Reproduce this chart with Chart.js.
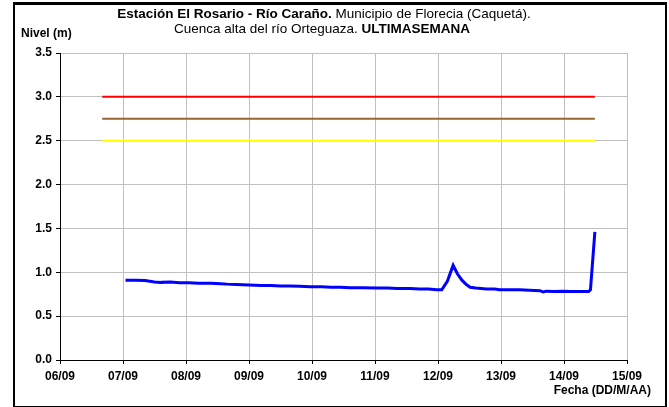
<!DOCTYPE html>
<html>
  <head>
    <meta charset="utf-8" />
    <title>Estación El Rosario - Río Caraño</title>
    <script src="https://cdn.jsdelivr.net/npm/chart.js"></script>
    <style>
      html, body { margin: 0; padding: 0; background: #fff; }
      #wrap { position: relative; width: 669px; height: 407px; overflow: hidden; }
      #frame { position: absolute; left: 13px; top: 2px; width: 650px; height: 401px; border: 2px solid #000; border-top-width: 3px; }
      #chart { position: absolute; left: 0; top: 0; }
    </style>
  </head>
  <body>
    <div id="wrap">
      <div id="frame"></div>
      <canvas id="chart" width="669" height="407"></canvas>
    </div>
    <script type="text/javascript">
      // x = days since 06/09 00:00
      var dateLabels = ['06/09', '07/09', '08/09', '09/09', '10/09', '11/09', '12/09', '13/09', '14/09', '15/09']

      var nivelDays = [1.04, 1.2, 1.35, 1.5, 1.6, 1.75, 1.9, 2.05, 2.2, 2.4, 2.55, 2.65, 2.8, 3.0, 3.2, 3.35, 3.5, 3.65, 3.8, 3.97, 4.15, 4.3, 4.45, 4.6, 4.8, 5.03, 5.2, 5.35, 5.56, 5.7, 5.85, 5.98, 6.06, 6.15, 6.24, 6.31, 6.38, 6.45, 6.51, 6.6, 6.77, 6.9, 6.98, 7.1, 7.3, 7.45, 7.62, 7.67, 7.72, 7.85, 7.98, 8.1, 8.25, 8.39, 8.42, 8.49]
      var nivelValues = [0.91, 0.91, 0.905, 0.89, 0.885, 0.89, 0.88, 0.88, 0.875, 0.875, 0.87, 0.865, 0.86, 0.855, 0.85, 0.85, 0.845, 0.845, 0.84, 0.835, 0.835, 0.83, 0.83, 0.825, 0.825, 0.82, 0.82, 0.815, 0.815, 0.81, 0.81, 0.80, 0.80, 0.90, 1.08, 0.98, 0.91, 0.86, 0.83, 0.82, 0.81, 0.81, 0.80, 0.80, 0.80, 0.795, 0.79, 0.775, 0.785, 0.78, 0.785, 0.78, 0.78, 0.78, 0.80, 1.46]

      var limitStart = 0.67
      var limitEnd = 8.49
      var limitRojo = 3.0
      var limitNaranja = 2.75
      var limitAmarillo = 2.5

      var fontFamily = '"Liberation Sans", Arial, sans-serif'

      function toPoints(xs, ys) {
        var pts = []
        for (var i = 0; i < xs.length; i++) pts.push({ x: xs[i], y: ys[i] })
        return pts
      }

      function limitLine(v) {
        return [{ x: limitStart, y: v }, { x: limitEnd, y: v }]
      }

      var textPlugin = {
        id: 'texts',
        afterDraw: function(chart) {
          var ctx = chart.ctx
          ctx.save()
          ctx.fillStyle = '#000'
          ctx.textBaseline = 'middle'
          function mixed(parts, cx, y) {
            var total = 0
            parts.forEach(function(p) {
              ctx.font = (p[1] ? 'bold ' : '') + '13.5px ' + fontFamily
              total += ctx.measureText(p[0]).width
            })
            var x = cx - total / 2
            ctx.textAlign = 'left'
            parts.forEach(function(p) {
              ctx.font = (p[1] ? 'bold ' : '') + '13.5px ' + fontFamily
              ctx.fillText(p[0], x, y)
              x += ctx.measureText(p[0]).width
            })
          }
          mixed([['Estación El Rosario - Río Caraño.', true], [' Municipio de Florecia (Caquetá).', false]], 324, 14)
          mixed([['Cuenca alta del río Orteguaza. ', false], ['ULTIMASEMANA', true]], 322, 29)
          ctx.font = 'bold 12px ' + fontFamily
          ctx.textAlign = 'left'
          ctx.fillText('Nivel (m)', 21, 34)
          ctx.textAlign = 'right'
          ctx.fillText('Fecha (DD/M/AA)', 651, 391)
          ctx.restore()
        }
      }

      var ctx = document.getElementById('chart').getContext('2d')
      new Chart(ctx, {
        type: 'scatter',
        data: {
          datasets: [
            { data: limitLine(limitRojo), showLine: true, borderColor: '#ff0000', borderWidth: 2, pointRadius: 0 },
            { data: limitLine(limitNaranja), showLine: true, borderColor: '#996633', borderWidth: 2, pointRadius: 0 },
            { data: limitLine(limitAmarillo), showLine: true, borderColor: '#ffff00', borderWidth: 2, pointRadius: 0 },
            { data: toPoints(nivelDays, nivelValues), showLine: true, borderColor: '#0000ff', borderWidth: 3, pointRadius: 0, tension: 0 }
          ]
        },
        options: {
          responsive: false,
          animation: false,
          events: [],
          layout: { padding: { left: 0, top: 53, right: 42, bottom: 0 } },
          plugins: { legend: { display: false }, title: { display: false }, tooltip: { enabled: false } },
          scales: {
            x: {
              type: 'linear',
              min: 0,
              max: 9,
              afterFit: function(s) { s.height = 47 },
              ticks: {
                stepSize: 1,
                autoSkip: false,
                maxRotation: 0,
                padding: 5,
                color: '#000',
                font: { family: fontFamily, size: 12, weight: 'bold' },
                callback: function(v) { return dateLabels[v] }
              },
              grid: { color: '#c0c0c0', lineWidth: 1, tickLength: 4, tickColor: '#000' },
              border: { color: '#000', width: 1 }
            },
            y: {
              min: 0,
              max: 3.5,
              afterFit: function(s) { s.width = 60 },
              ticks: {
                stepSize: 0.5,
                padding: 4,
                color: '#000',
                font: { family: fontFamily, size: 12, weight: 'bold' },
                callback: function(v) { return v.toFixed(1) }
              },
              grid: { color: '#c0c0c0', lineWidth: 1, tickLength: 4, tickColor: '#000' },
              border: { color: '#000', width: 1 }
            }
          }
        },
        plugins: [textPlugin]
      })
    </script>
  </body>
</html>
